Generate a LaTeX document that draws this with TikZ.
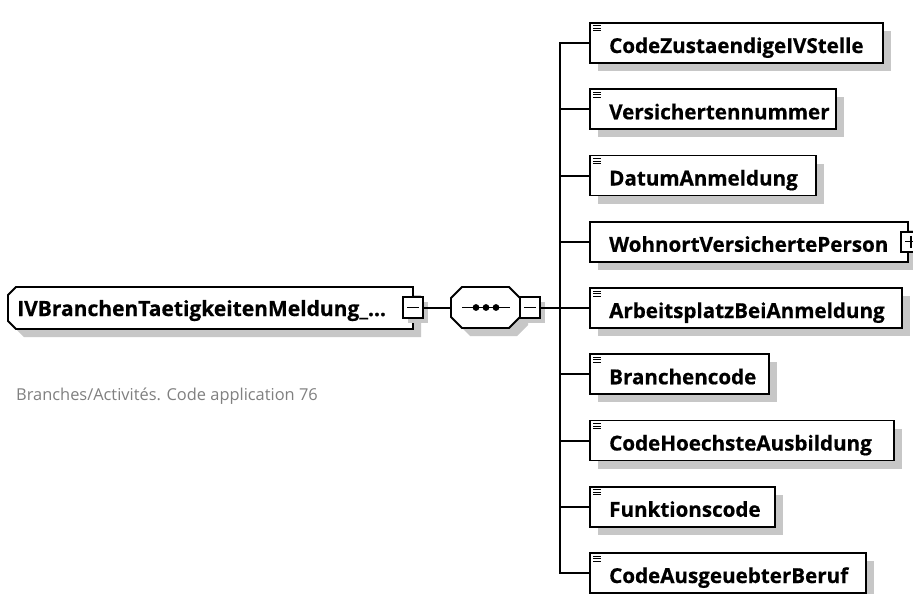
\documentclass[tikz,border=0pt]{standalone}
\usepackage{fontspec}
\setmainfont{Open Sans}[BoldFeatures={FakeBold=0.6}]
\begin{document}
\begin{tikzpicture}[x=1pt,y=-1pt,
  boxline/.style={line width=1.8pt, draw=black, line join=miter},
  shadowc/.style={fill=black!22},
  conn/.style={line width=2pt, draw=black},
  lbl/.style={inner sep=0pt, anchor=base west, font=\fontsize{20.6}{24}\selectfont\bfseries, text=black},
  desc/.style={inner sep=0pt, anchor=base west, font=\fontsize{16.4}{19}\selectfont, text=black!50},
  ghost/.style={inner sep=0pt, outer sep=0pt, draw=none}
]
\useasboundingbox (0,0) rectangle (913,594);
\fill[white] (0,0) rectangle (913,594);

% ---------- main element ----------
\node[ghost, minimum width=405pt, minimum height=42pt, anchor=north west] (main) at (8,287) {};
\fill[shadowc] ([shift={(8+8,8)}]main.north west) -- ([shift={(8,8)}]main.north east) -- ([shift={(8,8)}]main.south east)
   -- ([shift={(8+8,8)}]main.south west) -- ([shift={(8,8-8)}]main.south west) -- ([shift={(8,8+8)}]main.north west) -- cycle;
\draw[boxline, fill=white] ([shift={(8,0)}]main.north west) -- (main.north east) -- (main.south east)
   -- ([shift={(8,0)}]main.south west) -- ([shift={(0,-8)}]main.south west) -- ([shift={(0,8)}]main.north west) -- cycle;
\node[lbl, font=\fontsize{21}{24}\selectfont\bfseries] (maint) at (17,316) {IVBranchenTaetigkeitenMeldung\_...};

% main expander
\node[ghost, minimum width=20pt, minimum height=21pt] (mexp) at (413,307.5) {};
\fill[shadowc] ([shift={(5,5)}]mexp.north west) rectangle ([shift={(5,5)}]mexp.south east);
\draw[boxline, fill=white] (mexp.north west) rectangle (mexp.south east);
\draw[line width=1.4pt] ([shift={(-6,0)}]mexp.center) -- ([shift={(6,0)}]mexp.center);

% description
\node[desc] (descr) at (16,400) {Branches/Activités. Code application 76};

% ---------- sequence compositor ----------
\node[ghost, minimum width=69pt, minimum height=41pt, anchor=north west] (seq) at (451,287) {};
\fill[shadowc] ([shift={(8+11,8)}]seq.north west) -- ([shift={(8-11,8)}]seq.north east) -- ([shift={(8,8+11)}]seq.north east)
  -- ([shift={(8,8-11)}]seq.south east) -- ([shift={(8-11,8)}]seq.south east) -- ([shift={(8+11,8)}]seq.south west)
  -- ([shift={(8,8-11)}]seq.south west) -- ([shift={(8,8+11)}]seq.north west) -- cycle;
\draw[boxline, fill=white] ([shift={(11,0)}]seq.north west) -- ([shift={(-11,0)}]seq.north east) -- ([shift={(0,11)}]seq.north east)
  -- ([shift={(0,-11)}]seq.south east) -- ([shift={(-11,0)}]seq.south east) -- ([shift={(11,0)}]seq.south west)
  -- ([shift={(0,-11)}]seq.south west) -- ([shift={(0,11)}]seq.north west) -- cycle;
\draw[line width=1.4pt] (462,307.5) -- (510,307.5);
\foreach \dx in {476,486,496} \fill (\dx,307.5) circle (3.4pt);

% sequence expander
\node[ghost, minimum width=20pt, minimum height=21pt] (sexp) at (530,307.5) {};
\fill[shadowc] ([shift={(5,5)}]sexp.north west) rectangle ([shift={(5,5)}]sexp.south east);
\draw[boxline, fill=white] (sexp.north west) rectangle (sexp.south east);
\draw[line width=1.4pt] ([shift={(-6,0)}]sexp.center) -- ([shift={(6,0)}]sexp.center);

% connector main -> seq
\draw[conn] (mexp.east) -- (seq.west);

% ---------- children ----------
\newcommand{\childbox}[5]{% name, y-center, right edge, text, icon(1/0)
  \node[ghost, minimum width={#3-590}, minimum height=40pt, anchor=west] (#1) at (590,#2) {};
  \fill[shadowc] ([shift={(8,8)}]#1.north west) rectangle ([shift={(8,8)}]#1.south east);
  \draw[boxline, fill=white] (#1.north west) rectangle (#1.south east);
  \node[lbl] (#1t) at (609,#2+10) {#4};
  \ifnum#5=1
    \foreach \dy in {3,5.5,8} \draw[line width=1pt] ([shift={(3,\dy)}]#1.north west) -- ([shift={(11,\dy)}]#1.north west);
  \fi
}
\childbox{c1}{43}{883}{CodeZustaendigeIVStelle}{1}
\childbox{c2}{109.25}{836}{Versichertennummer}{1}
\childbox{c3}{175.5}{816}{DatumAnmeldung}{1}
\childbox{c4}{241.75}{908}{WohnortVersichertePerson}{0}
\childbox{c5}{308}{902}{ArbeitsplatzBeiAnmeldung}{1}
\childbox{c6}{374.25}{769}{Branchencode}{1}
\childbox{c7}{440.5}{894}{CodeHoechsteAusbildung}{1}
\childbox{c8}{506.75}{775}{Funktionscode}{1}
\childbox{c9}{573}{866}{CodeAusgeuebterBeruf}{1}

% expander of WohnortVersichertePerson
\node[ghost, minimum width=20pt, minimum height=20pt] (wexp) at (911,241.75) {};
\draw[boxline, fill=white] (wexp.north west) rectangle (wexp.south east);
\draw[line width=1.4pt] ([shift={(-6,0)}]wexp.center) -- ([shift={(6,0)}]wexp.center);
\draw[line width=1.4pt] ([shift={(0,-6)}]wexp.center) -- ([shift={(0,6)}]wexp.center);

% tree connectors
\coordinate (vtop) at (560,43);
\coordinate (vbot) at (560,573);
\coordinate (vmid) at (560,307.5);
\draw[conn] (sexp.east) -- (vmid);
\draw[conn, line cap=rect] (vtop) -- (vbot);
\foreach \c in {c1,c2,c3,c4,c5,c6,c7,c8,c9} \draw[conn] (560,0 |- \c.west) -- (\c.west);
\end{tikzpicture}
\end{document}
